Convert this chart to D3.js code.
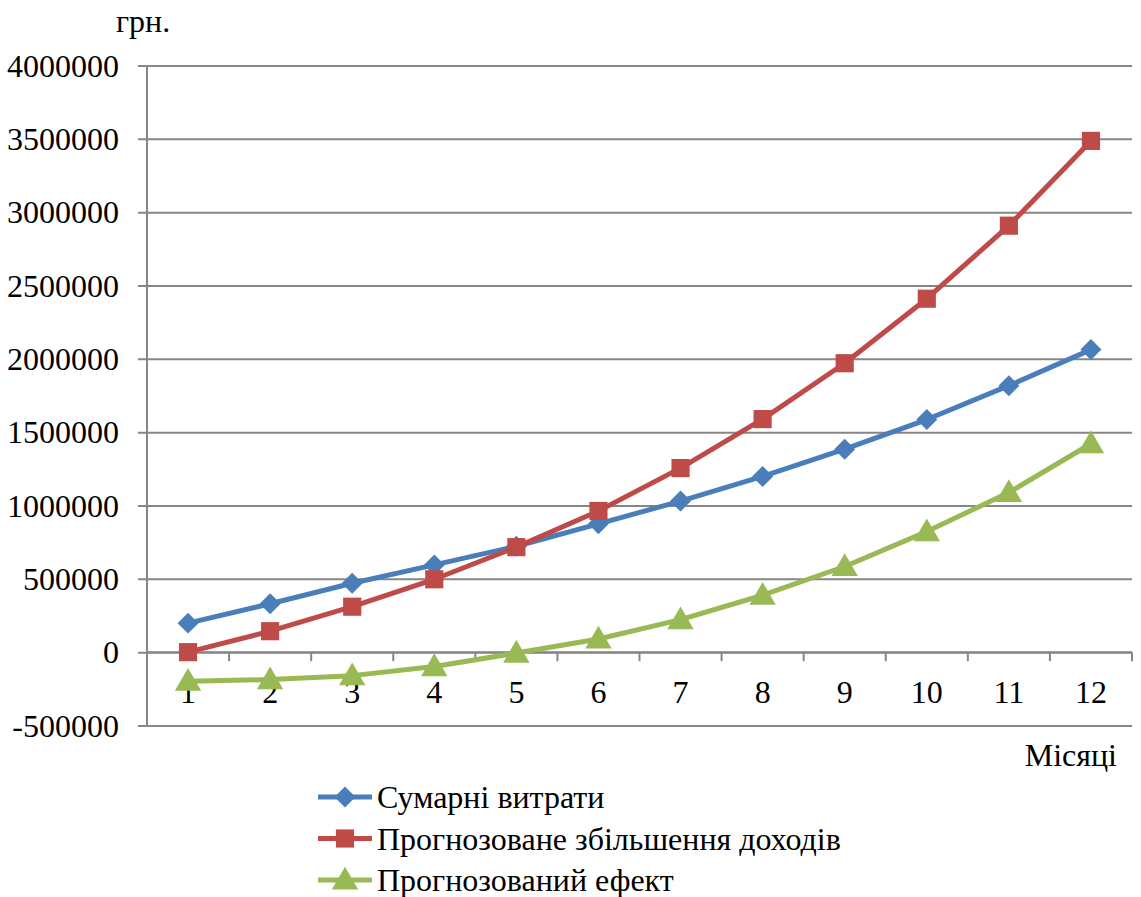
<!DOCTYPE html>
<html>
<head>
<meta charset="utf-8">
<script src="https://cdn.jsdelivr.net/npm/d3@7"></script>
<style>
  html, body { margin: 0; padding: 0; background: #fff; }
  svg { display: block; }
  svg text { font-family: "Liberation Serif", "Times New Roman", serif; fill: #000; }
</style>
</head>
<body>
<svg id="chart" width="1141" height="897"></svg>
<script>
// Monthly figures, UAH
const months = ["1", "2", "3", "4", "5", "6", "7", "8", "9", "10", "11", "12"];
const totalCosts = [198000, 330000, 470000, 595000, 722000, 875000, 1030000, 1198000, 1384000, 1586000, 1817000, 2063000];
const forecastIncome = [0, 143000, 310000, 497000, 716000, 963000, 1255000, 1589000, 1970000, 2410000, 2908000, 3486000];
const forecastEffect = [-198000, -187000, -160000, -98000, -6000, 90000, 222000, 388000, 584000, 822000, 1089000, 1421000];
const yTicks = [-500000, 0, 500000, 1000000, 1500000, 2000000, 2500000, 3000000, 3500000, 4000000];
const seriesNames = ["Сумарні витрати", "Прогнозоване збільшення доходів", "Прогнозований ефект"];

const series = [
  { name: seriesNames[0], values: totalCosts, color: "#4A7EBB", shape: "diamond" },
  { name: seriesNames[1], values: forecastIncome, color: "#BE4B48", shape: "square" },
  { name: seriesNames[2], values: forecastEffect, color: "#98B954", shape: "triangle" }
];

const svg = d3.select("#chart");
const plotLeft = 147, plotRight = 1132, plotTop = 65.5, plotBottom = 725.5;
const fontSize = 32;
const gridColor = "#868686";

const x = d3.scaleBand().domain(months).range([plotLeft, plotRight]);
const y = d3.scaleLinear().domain([-500000, 4000000]).range([plotBottom, plotTop]);

// horizontal gridlines with the value axis
const yAxis = d3.axisLeft(y).tickValues(yTicks).tickSize(-(plotRight - plotLeft)).tickSizeOuter(0).tickPadding(28).tickFormat(d => String(d));
const gy = svg.append("g").attr("transform", `translate(${plotLeft},0)`).call(yAxis)
  .attr("font-family", null).attr("font-size", null);
gy.select(".domain").remove();
gy.selectAll(".tick line").attr("stroke", gridColor).attr("stroke-width", 2).attr("x1", -9);
gy.selectAll(".tick text").style("font-size", fontSize + "px").attr("fill", "#000").attr("dy", "0.33em");

// vertical axis line
svg.append("line").attr("x1", plotLeft).attr("x2", plotLeft).attr("y1", plotTop).attr("y2", plotBottom)
  .attr("stroke", gridColor).attr("stroke-width", 2);

// category axis crossing at zero
const y0 = y(0);
svg.append("line").attr("x1", plotLeft).attr("x2", plotRight).attr("y1", y0).attr("y2", y0)
  .attr("stroke", gridColor).attr("stroke-width", 2);
const bounds = months.map(m => x(m)).concat([plotRight]);
svg.append("g").selectAll("line").data(bounds).join("line")
  .attr("x1", d => d).attr("x2", d => d).attr("y1", y0).attr("y2", y0 + 9)
  .attr("stroke", gridColor).attr("stroke-width", 2);

svg.append("g").selectAll("text").data(months).join("text")
  .attr("x", d => x(d) + x.bandwidth() / 2).attr("y", y0 + 51)
  .attr("text-anchor", "middle").style("font-size", fontSize + "px").text(d => d);

// axis titles
svg.append("text").attr("x", 143).attr("y", 32).attr("text-anchor", "middle").style("font-size", fontSize + "px").text("грн.");
svg.append("text").attr("x", 1117).attr("y", 766).attr("text-anchor", "end").style("font-size", fontSize + "px").text("Місяці");

const symbolTypes = { diamond: d3.symbolSquare, square: d3.symbolSquare, triangle: d3.symbolTriangle };
const symbolSizes = { diamond: 220, square: 330, triangle: 300 };
function marker(sel, s) {
  sel.attr("d", d3.symbol().type(symbolTypes[s.shape]).size(symbolSizes[s.shape])())
    .attr("fill", s.color);
}
function markerTransform(s, cx, cy) {
  if (s.shape === "diamond") return `translate(${cx},${cy}) rotate(45)`;
  if (s.shape === "triangle") return `translate(${cx},${cy + 2})`;
  return `translate(${cx},${cy})`;
}

const line = d3.line().x((d, i) => x(months[i]) + x.bandwidth() / 2).y(d => y(d));

series.forEach(s => {
  const g = svg.append("g");
  g.append("path").datum(s.values).attr("d", line).attr("fill", "none")
    .attr("stroke", s.color).attr("stroke-width", 5).attr("stroke-linejoin", "round");
  g.selectAll("path.m").data(s.values).join("path").attr("class", "m")
    .attr("transform", (d, i) => markerTransform(s, x(months[i]) + x.bandwidth() / 2, y(d)))
    .call(sel => marker(sel, s));
});

// legend
const legend = svg.append("g");
series.forEach((s, i) => {
  const ly = 797 + i * 41.5;
  legend.append("line").attr("x1", 318).attr("x2", 372).attr("y1", ly).attr("y2", ly)
    .attr("stroke", s.color).attr("stroke-width", 5);
  legend.append("path").attr("transform", markerTransform(s, 345, ly)).call(sel => marker(sel, s));
  legend.append("text").attr("x", 377).attr("y", ly).attr("dy", "0.35em").style("font-size", fontSize + "px").text(s.name);
});
</script>
</body>
</html>
